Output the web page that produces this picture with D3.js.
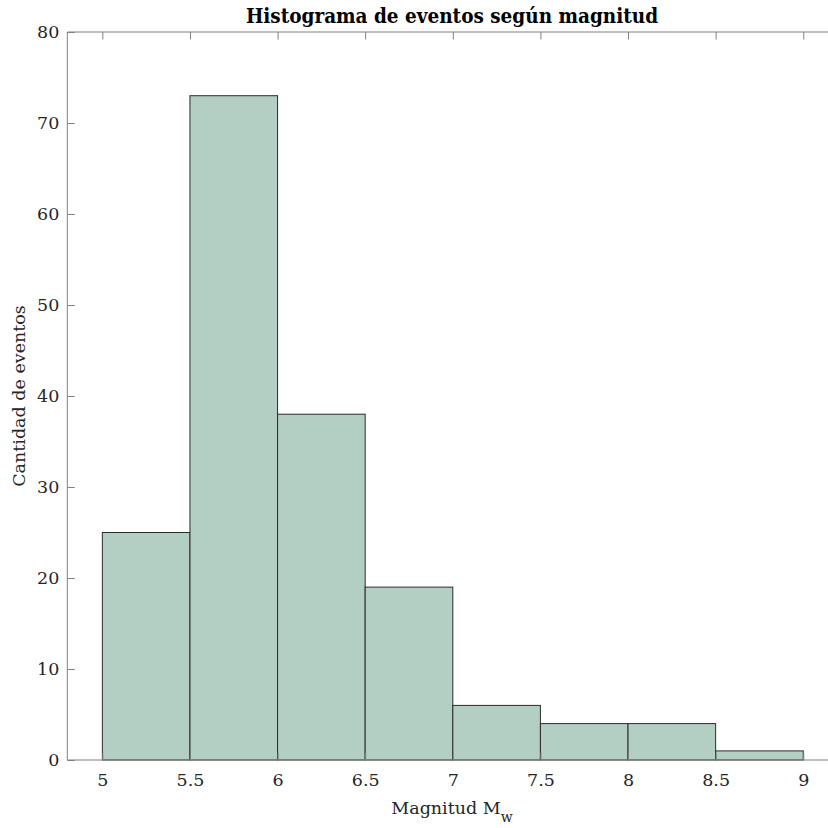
<!DOCTYPE html>
<html>
<head>
<meta charset="utf-8">
<script src="https://cdn.jsdelivr.net/npm/d3@7/dist/d3.min.js"></script>
<style>
	body { margin: 0; background: #fff; }
	svg { display: block; }
	text { font-family: "DejaVu Serif", "Liberation Serif", serif; fill: #262626; }
</style>
</head>
<body>
<svg id="chart" width="828" height="828"></svg>
<script>
// bin edges and counts
var binEdges = [5, 5.5, 6, 6.5, 7, 7.5, 8, 8.5, 9];
var counts = [25, 73, 38, 19, 6, 4, 4, 1];
var xTicks = [5, 5.5, 6, 6.5, 7, 7.5, 8, 8.5, 9];
var yTicks = [0, 10, 20, 30, 40, 50, 60, 70, 80];

var svg = d3.select("#chart");
var m = {left: 67.3, right: 838.3, top: 32, bottom: 760};

var x = d3.scaleLinear().domain([4.8, 9.2]).range([m.left, m.right]);
var y = d3.scaleLinear().domain([0, 80]).range([m.bottom, m.top]);

var bins = counts.map(function(c, i){
	return {x0: binEdges[i], x1: binEdges[i+1], n: c};
});

// bars
svg.append("g").selectAll("rect").data(bins).enter().append("rect")
	.attr("x", function(d){ return x(d.x0); })
	.attr("y", function(d){ return y(d.n); })
	.attr("width", function(d){ return x(d.x1) - x(d.x0); })
	.attr("height", function(d){ return y(0) - y(d.n); })
	.style("fill", "#b3cfc4")
	.style("stroke", "#2b2b2b")
	.style("stroke-width", 1);

var axisCol = "#808080";
var tickLen = 7.5;

// box lines (left, bottom, top) -- right side is off the page
svg.append("line").attr("x1", m.left).attr("x2", m.left).attr("y1", m.top).attr("y2", m.bottom)
	.style("stroke", axisCol);
svg.append("line").attr("x1", m.left).attr("x2", m.right).attr("y1", m.bottom).attr("y2", m.bottom)
	.style("stroke", axisCol);
svg.append("line").attr("x1", m.left).attr("x2", m.right).attr("y1", m.top).attr("y2", m.top)
	.style("stroke", axisCol);

// x axis: ticks pointing inward, top and bottom
var xb = d3.axisBottom(x).tickValues(xTicks).tickSizeInner(-tickLen).tickSizeOuter(0).tickPadding(14)
	.tickFormat(function(d){ return d3.format("")(d); });
var gx = svg.append("g").attr("transform", "translate(0," + m.bottom + ")").call(xb);
gx.select(".domain").remove();
gx.selectAll("line").style("stroke", axisCol);
gx.selectAll("text").style("font-size", "17.5px").style("fill", "#262626");

var xt = d3.axisTop(x).tickValues(xTicks).tickSizeInner(-tickLen).tickSizeOuter(0).tickFormat("");
var gxt = svg.append("g").attr("transform", "translate(0," + m.top + ")").call(xt);
gxt.select(".domain").remove();
gxt.selectAll("line").style("stroke", axisCol);

// y axis
var ya = d3.axisLeft(y).tickValues(yTicks).tickSizeInner(-tickLen).tickSizeOuter(0).tickPadding(8);
var gy = svg.append("g").attr("transform", "translate(" + m.left + ",0)").call(ya);
gy.select(".domain").remove();
gy.selectAll("line").style("stroke", axisCol);
gy.selectAll("text").style("font-size", "17.5px").style("fill", "#262626");

// title
svg.append("text")
	.attr("x", 452).attr("y", 23)
	.attr("text-anchor", "middle")
	.style("font-family", "'DejaVu Serif Condensed', 'DejaVu Serif', serif")
	.style("font-weight", "bold")
	.style("font-size", "20.5px")
	.style("fill", "#000")
	.text("Histograma de eventos según magnitud");

// x label with subscript
var xl = svg.append("text")
	.attr("x", 452).attr("y", 814)
	.attr("text-anchor", "middle")
	.style("font-size", "17.5px");
xl.append("tspan").text("Magnitud M");
xl.append("tspan").attr("dy", 8).style("font-size", "14px").text("w");

// y label
svg.append("text")
	.attr("transform", "translate(25,396) rotate(-90)")
	.attr("text-anchor", "middle")
	.style("font-size", "17.5px")
	.text("Cantidad de eventos");
</script>
</body>
</html>
